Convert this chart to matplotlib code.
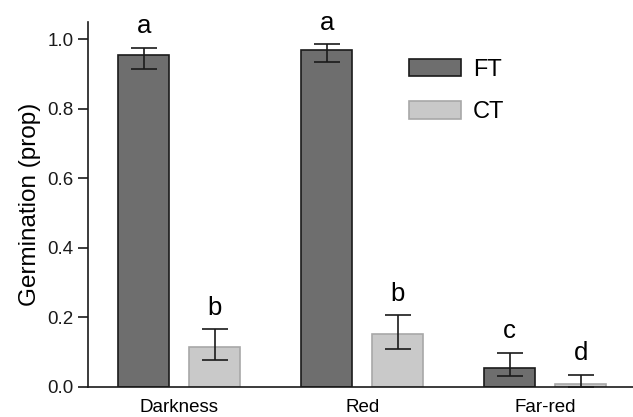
import matplotlib.pyplot as plt
import numpy as np

plt.rcParams['font.family'] = ['Liberation Sans', 'DejaVu Sans']

groups = ['Darkness', 'Red', 'Far-red']
ft_mean = [0.955, 0.969, 0.055]
ft_lo = [0.915, 0.935, 0.032]
ft_hi = [0.976, 0.986, 0.098]
ct_mean = [0.115, 0.151, 0.007]
ct_lo = [0.078, 0.108, 0.0]
ct_hi = [0.166, 0.206, 0.034]
ft_letters = ['a', 'a', 'c']
ct_letters = ['b', 'b', 'd']

fig = plt.figure(figsize=(6.33, 4.17), dpi=100)
ax = fig.add_axes([0.1386, 0.0727, 0.8614, 0.8746])

x = np.arange(len(groups))
w = 0.276
off = 0.194

ft_err = [np.array(ft_mean) - np.array(ft_lo), np.array(ft_hi) - np.array(ft_mean)]
ct_err = [np.array(ct_mean) - np.array(ct_lo), np.array(ct_hi) - np.array(ct_mean)]

ax.bar(x - off, ft_mean, w, color='#6e6e6e', edgecolor='#1a1a1a', linewidth=1.2,
       yerr=ft_err, capsize=9.5, error_kw=dict(elinewidth=1.2, capthick=1.2, ecolor='#1a1a1a'),
       label='FT')
ax.bar(x + off, ct_mean, w, color='#c9c9c9', edgecolor='#a8a8a8', linewidth=1.2,
       yerr=ct_err, capsize=9.5, error_kw=dict(elinewidth=1.2, capthick=1.2, ecolor='#1a1a1a'),
       label='CT')

# significance letters above error bars
for i in range(len(groups)):
    ax.text(x[i] - off, ft_hi[i] + 0.027, ft_letters[i], ha='center', va='bottom', fontsize=18.5)
    ax.text(x[i] + off, ct_hi[i] + 0.027, ct_letters[i], ha='center', va='bottom', fontsize=18.5)

ax.set_xlim(-0.5, 2.48)
ax.set_ylim(0, 1.05)
ax.set_xticks(x)
ax.set_xticklabels(groups, fontsize=13.5)
ax.tick_params(axis='x', length=0, pad=9)
ax.set_yticks([0.0, 0.2, 0.4, 0.6, 0.8, 1.0])
ax.set_yticklabels(['0.0', '0.2', '0.4', '0.6', '0.8', '1.0'], fontsize=13.5)
ax.tick_params(axis='y', length=7.5, width=1.2, pad=2.5, colors='#1a1a1a')
ax.set_ylabel('Germination (prop)', fontsize=17.5, labelpad=5)

for s in ['top', 'right']:
    ax.spines[s].set_visible(False)
for s in ['left', 'bottom']:
    ax.spines[s].set_linewidth(1.2)
    ax.spines[s].set_color('#1a1a1a')

ax.legend(loc='upper left', bbox_to_anchor=(0.551, 0.958), frameon=False, fontsize=17,
          handlelength=2.2, handleheight=0.76, labelspacing=0.88, handletextpad=0.5)

fig.savefig('out.png', dpi=100)
